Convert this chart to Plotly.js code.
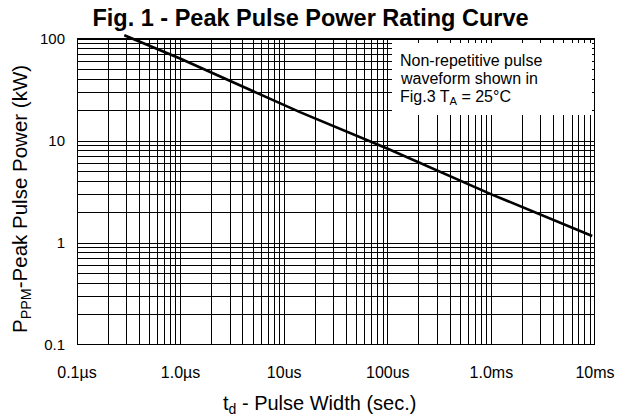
<!DOCTYPE html>
<html>
<head>
<meta charset="utf-8">
<script src="https://cdn.plot.ly/plotly-3.0.1.min.js"></script>
<style>html,body{margin:0;padding:0;background:#fff;}#chart{width:621px;height:416px;}</style>
</head>
<body>
<div id="chart"></div>
<script>
// ---- data ----
const pulseWidth = [2.86e-7, 1e-6, 1.42e-5, 1e-4, 1e-3, 9.4e-3];   // seconds
const peakPower  = [109, 64, 19.2, 8.4, 3.0, 1.17];                // kW

const xDecades   = [1e-7, 1e-6, 1e-5, 1e-4, 1e-3, 1e-2];
const xDecadeTxt = ['0.1µs', '1.0µs', '10us', '100us', '1.0ms', '10ms'];
const yDecades   = [0.1, 1, 10, 100];
const yDecadeTxt = ['0.1', '1', '10', '100'];

const noteLines = ['Non-repetitive pulse', 'waveform shown in', 'Fig.3 T<sub>A</sub> = 25°C'];

// grid positions (1..9 per decade) with labels only at decades
function logGrid(decades, labels) {
  const vals = [], txt = [];
  decades.forEach((d, i) => {
    vals.push(d); txt.push(labels[i]);
    if (i < decades.length - 1) {
      for (let m = 2; m <= 9; m++) { vals.push(d * m); txt.push(''); }
    }
  });
  return {vals, txt};
}
const xg = logGrid(xDecades, xDecadeTxt);
const yg = logGrid(yDecades, yDecadeTxt);

const FONT = 'Liberation Sans, Arial, Helvetica, sans-serif';
const plotTop = 34, plotBot = 345, plotL = 77, plotR = 595;
const H = plotBot - plotTop, W = plotR - plotL;
const py = p => (plotBot - p) / H;
const px = p => (p - plotL) / W;

const trace = {
  x: pulseWidth, y: peakPower, type: 'scatter', mode: 'lines',
  line: {color: '#000', width: 2.6}, hoverinfo: 'skip'
};

const annotations = [];
const noteMid = [60, 78.5, 97.5];
noteLines.forEach((t, i) => annotations.push({
  text: t, xref: 'paper', yref: 'paper', x: px(398), y: py(noteMid[i]),
  xanchor: 'left', yanchor: 'middle', showarrow: false, align: 'left',
  font: {family: FONT, size: 16, color: '#000'}
}));
annotations.push({
  text: 'P<sub>PPM</sub>-Peak Pulse Power (kW)', xref: 'paper', yref: 'paper',
  x: px(21), y: py(199), xanchor: 'center', yanchor: 'middle', textangle: -90,
  showarrow: false, font: {family: FONT, size: 20.5, color: '#000'}
});
annotations.push({
  text: 't<sub>d</sub> - Pulse Width (sec.)', xref: 'paper', yref: 'paper',
  x: px(319), y: py(404), xanchor: 'center', yanchor: 'middle',
  showarrow: false, font: {family: FONT, size: 20, color: '#000'}
});

const layout = {
  width: 621, height: 416,
  margin: {l: plotL, r: 621 - plotR, t: plotTop, b: 416 - plotBot, pad: 0},
  paper_bgcolor: '#fff', plot_bgcolor: '#fff',
  showlegend: false,
  title: {
    text: '<b>Fig. 1 - Peak Pulse Power Rating Curve</b>',
    x: 0.5, xref: 'container', xanchor: 'center',
    y: 1 - 18 / 416, yref: 'container', yanchor: 'middle',
    font: {family: FONT, size: 23.5, color: '#000'}
  },
  xaxis: {
    type: 'log', range: [-7, -2], tickmode: 'array',
    tickvals: xg.vals, ticktext: xg.txt, ticks: '', tickangle: 0,
    showgrid: true, gridcolor: '#000', gridwidth: 1,
    showline: false, zeroline: false, ticklabelstandoff: 16,
    tickfont: {family: FONT, size: 16, color: '#000'}
  },
  yaxis: {
    type: 'log', range: [-1, 2.049], tickmode: 'array',
    tickvals: yg.vals, ticktext: yg.txt, ticks: '',
    showgrid: true, gridcolor: '#000', gridwidth: 1,
    showline: false, zeroline: false, ticklabelstandoff: 11,
    tickfont: {family: FONT, size: 15, color: '#000'}
  },
  shapes: [
    // hide gridlines above the 100 kW top edge
    {type: 'rect', xref: 'x', yref: 'y', x0: 1e-7, x1: 1e-2, y0: 100, y1: 1000,
     fillcolor: '#fff', line: {width: 0}, layer: 'between'},
    // white note box
    {type: 'rect', xref: 'paper', yref: 'paper', x0: px(392), x1: px(592), y0: py(115), y1: py(43),
     fillcolor: '#fff', line: {width: 0}, layer: 'above'},
    // frame
    {type: 'rect', xref: 'x', yref: 'y', x0: 1e-7, x1: 1e-2, y0: 0.1, y1: 100,
     line: {color: '#000', width: 2}, fillcolor: 'rgba(0,0,0,0)', layer: 'above'}
  ],
  annotations: annotations
};

Plotly.newPlot('chart', [trace], layout, {staticPlot: true, displayModeBar: false});
</script>
</body>
</html>
